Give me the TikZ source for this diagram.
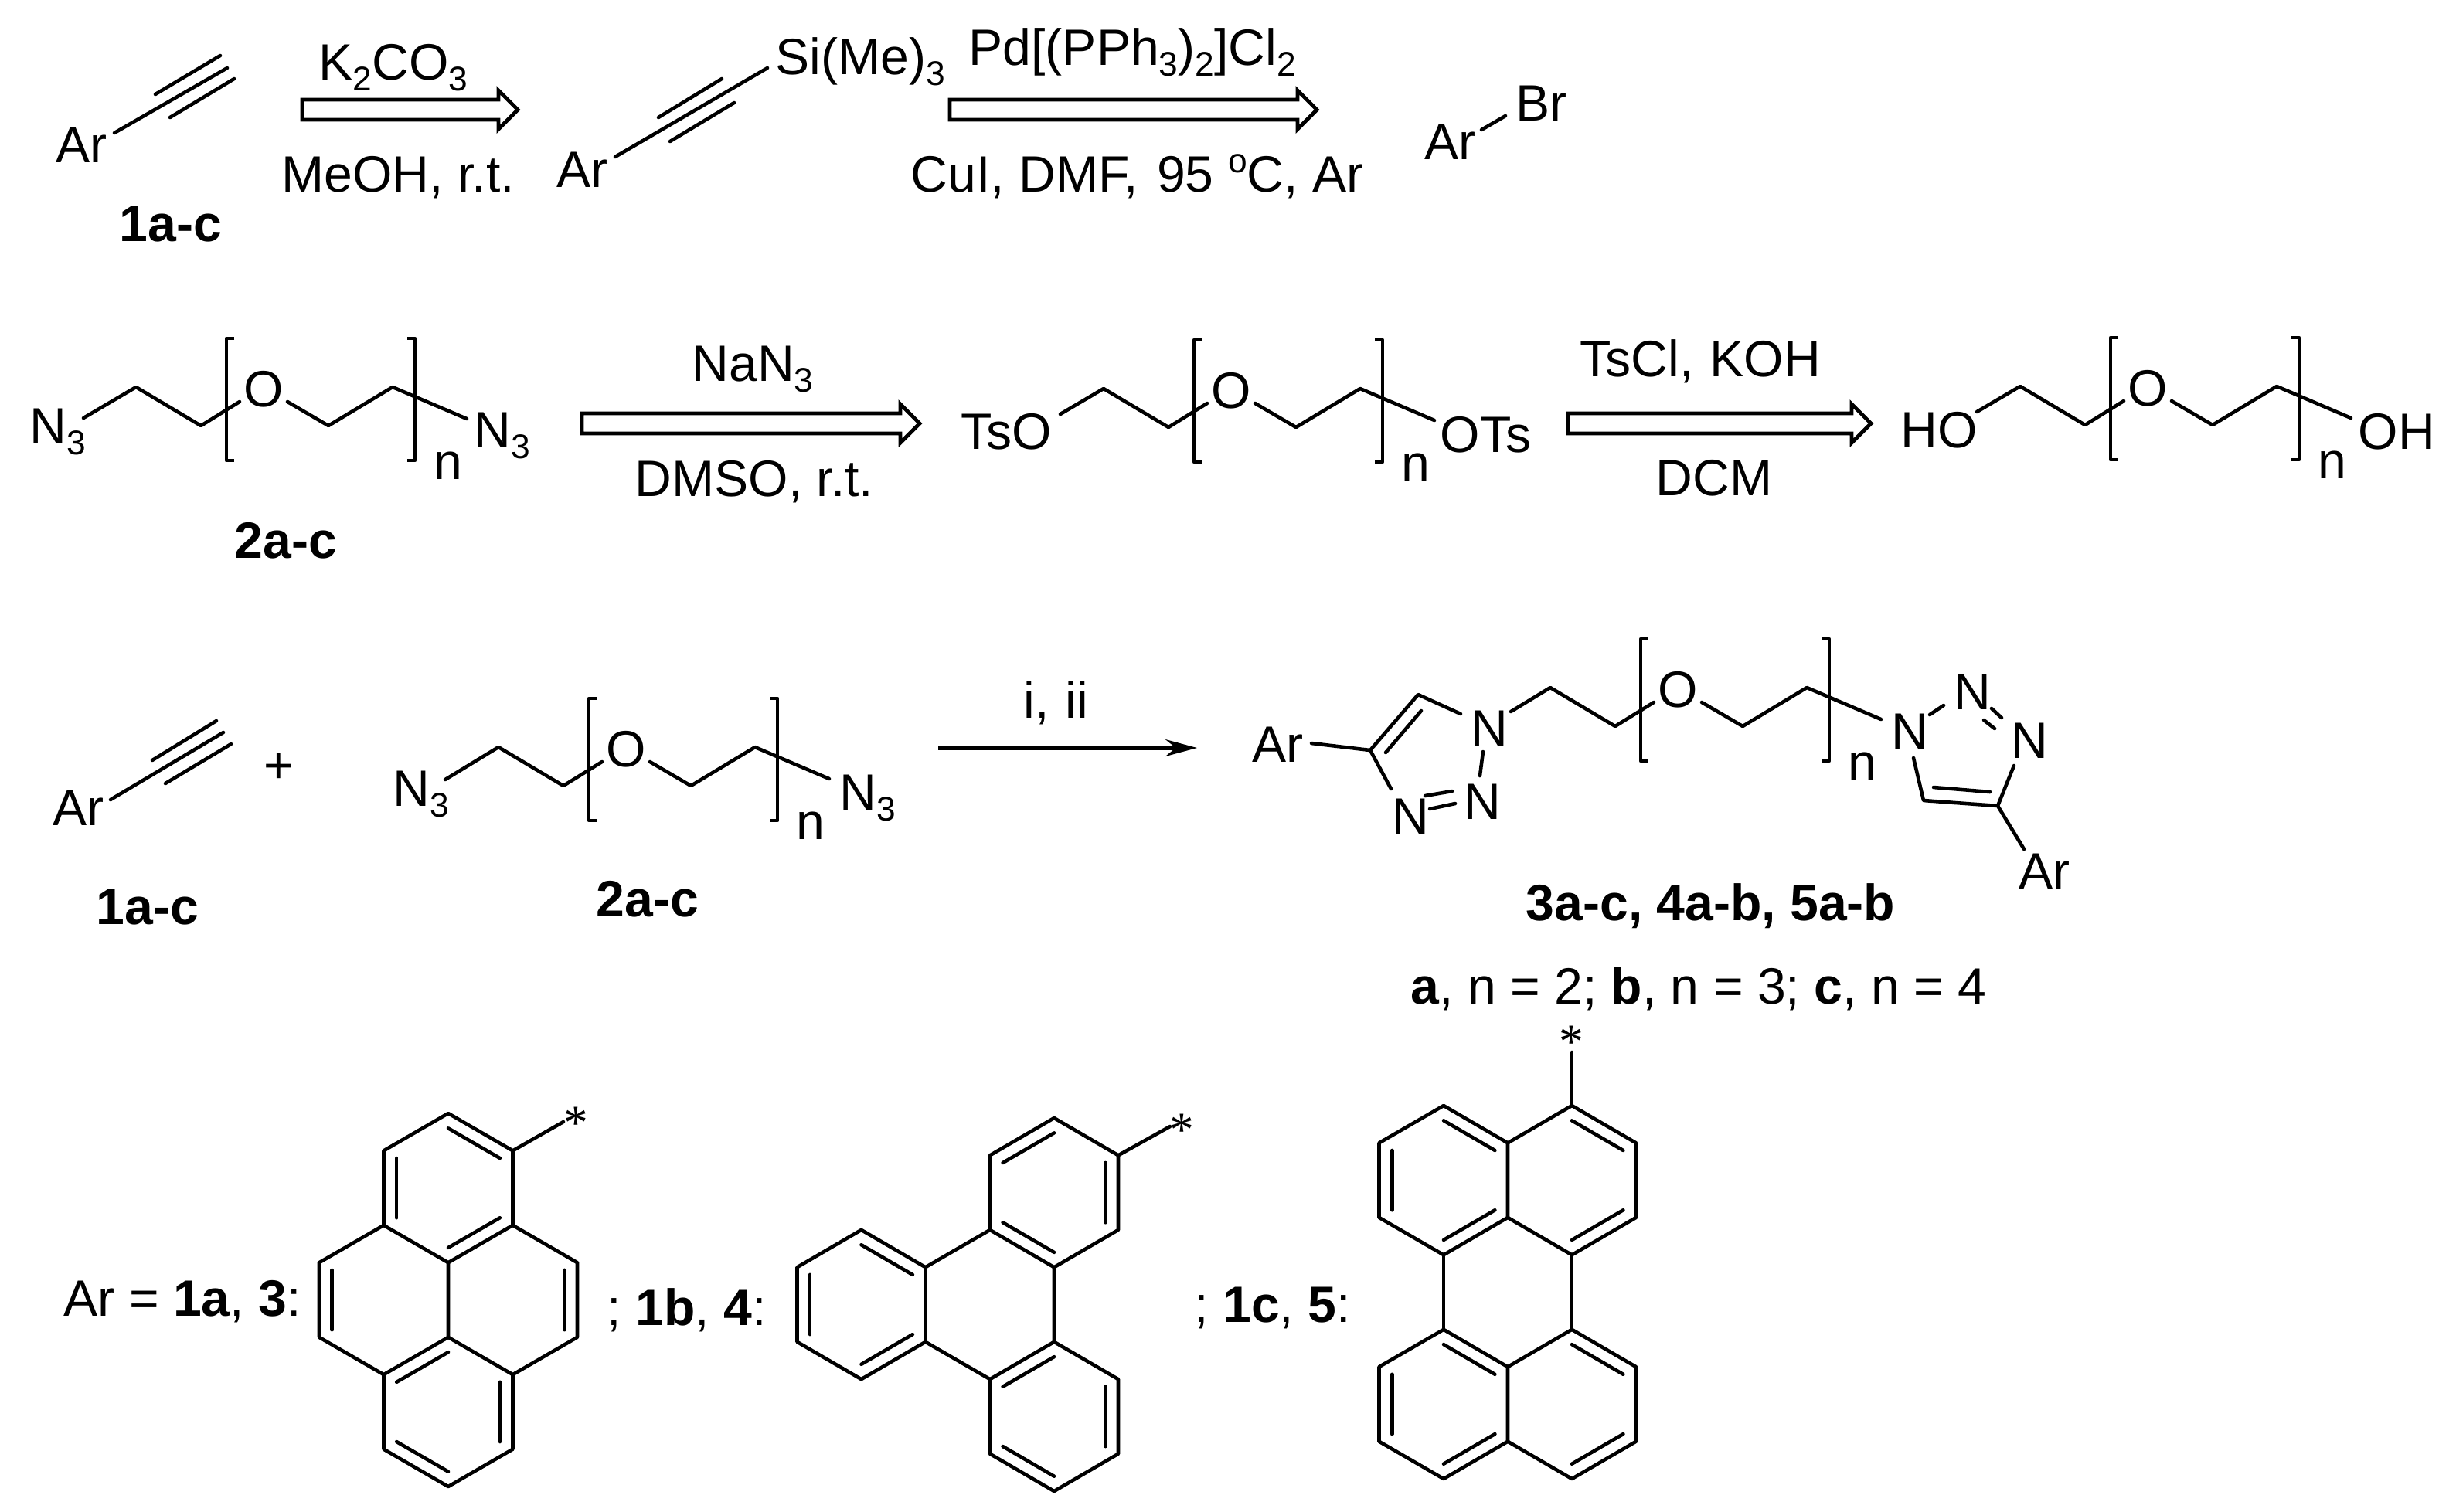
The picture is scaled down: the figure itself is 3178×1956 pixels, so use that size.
\documentclass[tikz,border=0pt]{standalone}
\usepackage{fontspec}
\setmainfont{Liberation Sans}
\newfontfamily\starfont{Liberation Serif}
\usetikzlibrary{calc,arrows.meta}

\tikzset{
  bond/.style={line width=1.3pt, line cap=round, line join=round, black},
  lbl/.style={anchor=base west, inner sep=0pt, font=\fontsize{18.8}{22}\selectfont},
  lblc/.style={lbl, anchor=base},
  starlbl/.style={anchor=base, inner sep=0pt, font=\starfont\fontsize{18}{22}\selectfont},
  hollow/.style={line width=1.4pt, line join=miter, fill=white},
}
\newcommand{\sbs}[1]{\raisebox{-4pt}{\fontsize{12.6}{13}\selectfont #1}}
\newcommand{\sps}[1]{\raisebox{7pt}{\fontsize{12.6}{13}\selectfont #1}}
% inner line of a double bond, pulled towards the ring centre
\newcommand{\dblbond}[3]{\draw[bond] ($(#1)!0.2!(#3)$) -- ($(#2)!0.2!(#3)$);}
% open reaction arrow
\newcommand{\openarrow}[2]{\draw[hollow] ($(#1)+(0,-13)$) -- ($(#2)+(-25,-13)$) -- ($(#2)+(-25,-25)$) -- (#2)
  -- ($(#2)+(-25,25)$) -- ($(#2)+(-25,13)$) -- ($(#1)+(0,13)$) -- cycle;}
% glycol unit: name, position of first vertex, left arm
\newcommand{\pegunit}[4]{\begin{scope}[shift={(#2,#3)}]
  \coordinate (#1a) at (0,0);
  \coordinate (#1l) at (#4);
  \coordinate (#1b) at (84,50);
  \coordinate (#1c) at (134,19);
  \coordinate (#1d) at (196,19);
  \coordinate (#1e) at (249,50);
  \coordinate (#1f) at (332,0);
  \coordinate (#1r) at (428,41);
  \node[lbl, anchor=center] (#1o) at (165,3) {O};
  \draw[bond] (#1l) -- (#1a) -- (#1b) -- (#1c);
  \draw[bond] (#1d) -- (#1e) -- (#1f) -- (#1r);
  \draw[bond, line cap=butt] (127,-63) -- (117,-63) -- (117,95) -- (127,95);
  \draw[bond, line cap=butt] (351,-63) -- (361,-63) -- (361,95) -- (351,95);
  \node[lbl] (#1n) at (385,119) {n};
\end{scope}}

\begin{document}
\begin{tikzpicture}[x=0.01cm,y=-0.01cm]
\useasboundingbox (0,0) rectangle (3178,1956);
% row one
\node[lbl] (ar1) at (72,210) {Ar};
\coordinate (y1a) at (148,172);
\coordinate (y1b) at (294,88);
\coordinate (y1c) at (201,122);
\coordinate (y1d) at (285,72);
\coordinate (y1e) at (220,152);
\coordinate (y1f) at (303,102);
\draw[bond] (y1a) -- (y1b);
\draw[bond] (y1c) -- (y1d);
\draw[bond] (y1e) -- (y1f);
\node[lbl] (cmpd1) at (154,312) {\textbf{1a-c}};
%
\coordinate (arr1s) at (391,142);
\coordinate (arr1e) at (670,142);
\openarrow{arr1s}{arr1e}
\node[lbl] (k2co3) at (412,103) {K\sbs{2}CO\sbs{3}};
\node[lbl] (meoh) at (364,248) {MeOH, r.t.};
%
\node[lbl] (ar2) at (720,242) {Ar};
\coordinate (y2a) at (796,203);
\coordinate (y2b) at (993,88);
\coordinate (y2c) at (852,152);
\coordinate (y2d) at (934,102);
\coordinate (y2e) at (867,183);
\coordinate (y2f) at (950,133);
\draw[bond] (y2a) -- (y2b);
\draw[bond] (y2c) -- (y2d);
\draw[bond] (y2e) -- (y2f);
\node[lbl] (tms) at (1003,96) {Si(Me)\sbs{3}};
%
\coordinate (arr2s) at (1229,142);
\coordinate (arr2e) at (1704,142);
\openarrow{arr2s}{arr2e}
\node[lbl] (pdcat) at (1253,84) {Pd[(PPh\sbs{3})\sbs{2}]Cl\sbs{2}};
\node[lbl] (cui) at (1178,248) {CuI, DMF,\hspace{7pt}95 \sps{o}C, Ar};
%
\node[lbl] (ar3) at (1843,206) {Ar};
\node[lbl] (br) at (1961,156) {Br};
\coordinate (brb) at (1917,168);
\coordinate (bre) at (1948,150);
\draw[bond] (brb) -- (bre);
% row two
\node[lbl] (n3a) at (38,574) {N\sbs{3}};
\pegunit{pa}{176}{501}{-68,40}
\node[lbl] (n3b) at (613,579) {N\sbs{3}};
\node[lbl] (cmpd2) at (303,722) {\textbf{2a-c}};
%
\coordinate (arr3s) at (753,548);
\coordinate (arr3e) at (1190,548);
\openarrow{arr3s}{arr3e}
\node[lbl] (nan3) at (895,493) {NaN\sbs{3}};
\node[lbl] (dmso) at (821,642) {DMSO, r.t.};
%
\node[lbl] (tso) at (1243,581) {TsO};
\pegunit{pb}{1428}{503}{-56,33}
\node[lbl] (ots) at (1863,585) {OTs};
%
\coordinate (arr4s) at (2029,548);
\coordinate (arr4e) at (2421,548);
\openarrow{arr4s}{arr4e}
\node[lbl] (tscl) at (2044,487) {TsCl,\hspace{6pt}KOH};
\node[lbl] (dcm) at (2142,641) {DCM};
%
\node[lbl] (ho) at (2459,579) {HO};
\pegunit{pc}{2614}{500}{-56,33}
\node[lbl] (oh) at (3051,581) {OH};
% row three
\node[lbl] (ar4) at (68,1068) {Ar};
\coordinate (y3a) at (143,1035);
\coordinate (y3b) at (289,948);
\coordinate (y3c) at (197,984);
\coordinate (y3d) at (280,933);
\coordinate (y3e) at (214,1014);
\coordinate (y3f) at (299,963);
\draw[bond] (y3a) -- (y3b);
\draw[bond] (y3c) -- (y3d);
\draw[bond] (y3e) -- (y3f);
\node[lbl, anchor=center] (plus) at (361,994) {+};
\node[lbl] (cmpd1b) at (124,1196) {\textbf{1a-c}};
%
\node[lbl] (n3c) at (508,1043) {N\sbs{3}};
\pegunit{pd}{645}{967}{-69,42}
\node[lbl] (n3d) at (1086,1048) {N\sbs{3}};
\node[lbl] (cmpd2b) at (771,1186) {\textbf{2a-c}};
%
\coordinate (arr5s) at (1214,968);
\coordinate (arr5e) at (1549,968);
\draw[line width=1.42pt, -{Stealth[length=11.6pt,width=6.2pt]}] (arr5s) -- (arr5e);
\node[lbl] (cond) at (1324,929) {i,\hspace{6pt}ii};
% triazole, left
\node[lbl] (ar5) at (1620,986) {Ar};
\node[lbl] (tn1) at (1903,965) {N};
\node[lbl] (tn2) at (1894,1060) {N};
\node[lbl] (tn3) at (1801,1079) {N};
\coordinate (tc4) at (1773,971);
\coordinate (tc5) at (1835,899);
\coordinate (tb1) at (1697,962);
\coordinate (tb2) at (1890,924);
\coordinate (tb3) at (1839,920);
\coordinate (tb4) at (1793,974);
\coordinate (tb5) at (1800,1021);
\coordinate (tb6) at (1919,973);
\coordinate (tb7) at (1915,1004);
\coordinate (tb8) at (1844,1030);
\coordinate (tb9) at (1879,1024);
\coordinate (tb10) at (1850,1047);
\coordinate (tb11) at (1883,1040);
\draw[bond] (tb1) -- (tc4) -- (tc5) -- (tb2);
\draw[bond] (tb3) -- (tb4);
\draw[bond] (tc4) -- (tb5);
\draw[bond] (tb6) -- (tb7);
\draw[bond] (tb8) -- (tb9);
\draw[bond] (tb10) -- (tb11);
%
\pegunit{pe}{2006}{890}{-51,31}
% triazole, right
\node[lbl] (un1) at (2447,969) {N};
\node[lbl] (un2) at (2528,918) {N};
\node[lbl] (un3) at (2602,981) {N};
\node[lbl] (ar6) at (2612,1150) {Ar};
\coordinate (uc4) at (2585,1043);
\coordinate (uc5) at (2489,1036);
\coordinate (ub1) at (2497,925);
\coordinate (ub2) at (2515,913);
\coordinate (ub3) at (2577,917);
\coordinate (ub4) at (2590,929);
\coordinate (ub5) at (2567,932);
\coordinate (ub6) at (2581,943);
\coordinate (ub7) at (2606,991);
\coordinate (ub8) at (2502,1019);
\coordinate (ub9) at (2575,1025);
\coordinate (ub10) at (2476,981);
\coordinate (ub11) at (2619,1099);
\draw[bond] (ub1) -- (ub2);
\draw[bond] (ub3) -- (ub4);
\draw[bond] (ub5) -- (ub6);
\draw[bond] (ub7) -- (uc4) -- (uc5) -- (ub10);
\draw[bond] (ub8) -- (ub9);
\draw[bond] (uc4) -- (ub11);
%
\node[lbl] (cmpd3) at (1974,1191) {\textbf{3a-c, 4a-b, 5a-b}};
\node[lbl] (nvals) at (1825,1299) {\textbf{a}, n = 2; \textbf{b}, n = 3; \textbf{c}, n = 4};
% row four, pyrene
\node[lbl] (arlist) at (82,1703) {Ar = \textbf{1a}, \textbf{3}:};
\begin{scope}[shift={(580,1441)}]
\coordinate (pa1) at (0,0);
\coordinate (pa2) at (83.5,48.3);
\coordinate (pa3) at (-83.5,48.3);
\coordinate (pa4) at (83.5,144.9);
\coordinate (pa5) at (-83.5,144.9);
\coordinate (pa6) at (0,193.2);
\coordinate (pa7) at (167,193.2);
\coordinate (pa8) at (-167,193.2);
\coordinate (pa9) at (167,289.8);
\coordinate (pa10) at (-167,289.8);
\coordinate (pa11) at (0,289.8);
\coordinate (pa12) at (83.5,338.1);
\coordinate (pa13) at (-83.5,338.1);
\coordinate (pa14) at (83.5,434.7);
\coordinate (pa15) at (-83.5,434.7);
\coordinate (pa16) at (0,483);
\coordinate (pat) at (0,96.6);
\coordinate (pal) at (-83.5,241.5);
\coordinate (par) at (83.5,241.5);
\coordinate (pab) at (0,386.4);
\coordinate (pas) at (149,11);
\draw[bond] (pa1) -- (pa2) -- (pa4) -- (pa6) -- (pa5) -- (pa3) -- cycle;
\draw[bond] (pa5) -- (pa8) -- (pa10) -- (pa13) -- (pa11) -- (pa6);
\draw[bond] (pa4) -- (pa7) -- (pa9) -- (pa12) -- (pa11);
\draw[bond] (pa13) -- (pa15) -- (pa16) -- (pa14) -- (pa12);
\draw[bond] (pa2) -- (pas);
\dblbond{pa1}{pa2}{pat}
\dblbond{pa3}{pa5}{pat}
\dblbond{pa4}{pa6}{pat}
\dblbond{pa8}{pa10}{pal}
\dblbond{pa7}{pa9}{par}
\dblbond{pa11}{pa13}{pab}
\dblbond{pa12}{pa14}{pab}
\dblbond{pa15}{pa16}{pab}
\node[starlbl] (pastar) at (165,33) {*};
\end{scope}
% triphenylene
\node[lbl] (arlistb) at (785,1715) {; \textbf{1b}, \textbf{4}:};
\begin{scope}[shift={(1364,1447)}]
\coordinate (tr1) at (0,0);
\coordinate (tr2) at (83,48.3);
\coordinate (tr3) at (-83,48.3);
\coordinate (tr4) at (83,144.9);
\coordinate (tr5) at (-83,144.9);
\coordinate (tr6) at (0,193.2);
\coordinate (tr7) at (0,289.8);
\coordinate (tr8) at (-83,338.1);
\coordinate (tr9) at (-166.5,289.8);
\coordinate (tr10) at (-166.5,193.2);
\coordinate (tr11) at (-249.5,144.9);
\coordinate (tr12) at (-332.5,193.2);
\coordinate (tr13) at (-332.5,289.8);
\coordinate (tr14) at (-249.5,338.1);
\coordinate (tr15) at (83,338.1);
\coordinate (tr16) at (-83,434.7);
\coordinate (tr17) at (83,434.7);
\coordinate (tr18) at (0,483);
\coordinate (trt) at (0,96.6);
\coordinate (trl) at (-249.5,241.5);
\coordinate (trb) at (0,386.4);
\coordinate (trs) at (150,11);
\draw[bond] (tr1) -- (tr2) -- (tr4) -- (tr6) -- (tr5) -- (tr3) -- cycle;
\draw[bond] (tr6) -- (tr7) -- (tr8) -- (tr9) -- (tr10) -- (tr5);
\draw[bond] (tr10) -- (tr11) -- (tr12) -- (tr13) -- (tr14) -- (tr9);
\draw[bond] (tr7) -- (tr15) -- (tr17) -- (tr18) -- (tr16) -- (tr8);
\draw[bond] (tr2) -- (trs);
\dblbond{tr1}{tr3}{trt}
\dblbond{tr2}{tr4}{trt}
\dblbond{tr5}{tr6}{trt}
\dblbond{tr10}{tr11}{trl}
\dblbond{tr12}{tr13}{trl}
\dblbond{tr14}{tr9}{trl}
\dblbond{tr7}{tr8}{trb}
\dblbond{tr15}{tr17}{trb}
\dblbond{tr16}{tr18}{trb}
\node[starlbl] (trstar) at (165,36) {*};
\end{scope}
% perylene
\node[lbl] (arlistc) at (1545,1711) {; \textbf{1c}, \textbf{5}:};
\begin{scope}[shift={(1868,1431)}]
\coordinate (pe1) at (0,0);
\coordinate (pe2) at (166,0);
\coordinate (pe3) at (-83.5,48.3);
\coordinate (pe4) at (83,48.3);
\coordinate (pe5) at (249,48.3);
\coordinate (pe6) at (-83.5,144.9);
\coordinate (pe7) at (83,144.9);
\coordinate (pe8) at (249,144.9);
\coordinate (pe9) at (0,193.2);
\coordinate (pe10) at (166,193.2);
\coordinate (pe11) at (0,289.8);
\coordinate (pe12) at (166,289.8);
\coordinate (pe13) at (-83.5,338.1);
\coordinate (pe14) at (83,338.1);
\coordinate (pe15) at (249,338.1);
\coordinate (pe16) at (-83.5,434.7);
\coordinate (pe17) at (83,434.7);
\coordinate (pe18) at (249,434.7);
\coordinate (pe19) at (0,483);
\coordinate (pe20) at (166,483);
\coordinate (pea) at (0,96.6);
\coordinate (peb) at (166,96.6);
\coordinate (pec) at (0,386.4);
\coordinate (ped) at (166,386.4);
\coordinate (pes) at (166,-69);
\draw[bond] (pe1) -- (pe4) -- (pe7) -- (pe9) -- (pe6) -- (pe3) -- cycle;
\draw[bond] (pe4) -- (pe2) -- (pe5) -- (pe8) -- (pe10) -- (pe7);
\draw[bond] (pe9) -- (pe11);
\draw[bond] (pe10) -- (pe12);
\draw[bond] (pe11) -- (pe14) -- (pe17) -- (pe19) -- (pe16) -- (pe13) -- cycle;
\draw[bond] (pe14) -- (pe12) -- (pe15) -- (pe18) -- (pe20) -- (pe17);
\draw[bond] (pe2) -- (pes);
\dblbond{pe1}{pe4}{pea}
\dblbond{pe3}{pe6}{pea}
\dblbond{pe7}{pe9}{pea}
\dblbond{pe2}{pe5}{peb}
\dblbond{pe8}{pe10}{peb}
\dblbond{pe11}{pe14}{pec}
\dblbond{pe13}{pe16}{pec}
\dblbond{pe17}{pe19}{pec}
\dblbond{pe12}{pe15}{ped}
\dblbond{pe18}{pe20}{ped}
\node[starlbl] (pestar) at (165,-62) {*};
\end{scope}
\end{tikzpicture}
\end{document}
